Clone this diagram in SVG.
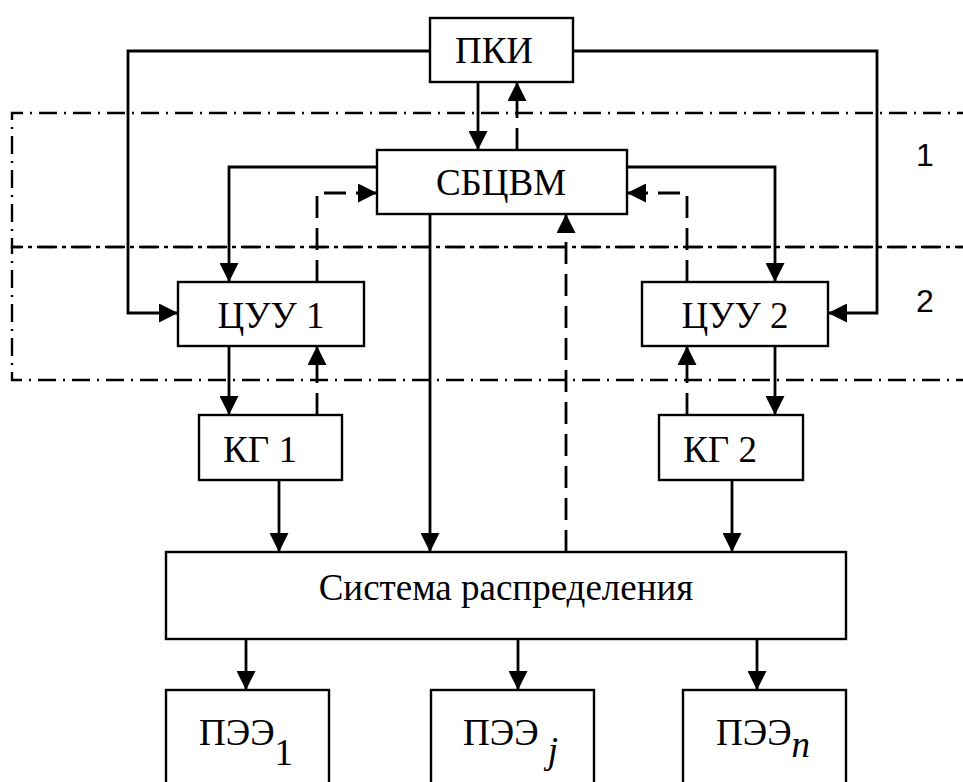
<svg xmlns="http://www.w3.org/2000/svg" width="963" height="782" viewBox="0 0 963 782">
<style>
.box{fill:#fff;stroke:#000;stroke-width:2.4}
.t{font-family:"Liberation Serif","Times New Roman",serif;font-size:37px;fill:#000;text-anchor:middle}
.lbl{font-family:"Liberation Sans",Arial,sans-serif;font-size:32px;fill:#000;text-anchor:middle}
.c{fill:none;stroke:#000;stroke-width:2.8;marker-end:url(#ah)}
.d{stroke-dasharray:22 10}
.zone{fill:none;stroke:#000;stroke-width:2.4;stroke-dasharray:18 7 2 7}
</style>
<defs>
<marker id="ah" markerUnits="userSpaceOnUse" markerWidth="19" markerHeight="19" refX="19" refY="9.5" orient="auto">
<path d="M0,0 L19,9.5 L0,19 Z" fill="#000"/>
</marker>
</defs>
<rect width="963" height="782" fill="#fff"/>
<g id="zones">
<path class="zone" d="M975,113 H12 V247 H975"/>
<path class="zone" d="M975,247 H12 V380 H975"/>
<text class="lbl" x="925" y="166">1</text>
<text class="lbl" x="925" y="312">2</text>
</g>
<g id="connectors">
<path class="c" d="M430,51 H128 V313 H178"/>
<path class="c" d="M573,51 H877 V313 H828"/>
<path class="c" d="M478,82 V150"/>
<path class="c d" d="M517,150 V82"/>
<path class="c" d="M377,167 H229 V282"/>
<path class="c d" d="M317,282 V193 H377"/>
<path class="c" d="M627,167 H775 V282"/>
<path class="c d" d="M687,282 V193 H627"/>
<path class="c" d="M430,214 V552"/>
<path class="c d" d="M566,552 V214"/>
<path class="c" d="M229,346 V415"/>
<path class="c d" d="M317,415 V346"/>
<path class="c" d="M775,346 V415"/>
<path class="c d" d="M687,415 V346"/>
<path class="c" d="M279,480 V552"/>
<path class="c" d="M732,480 V552"/>
<path class="c" d="M246,639 V690"/>
<path class="c" d="M518,639 V690"/>
<path class="c" d="M757,639 V690"/>
</g>
<g id="pki"><rect class="box" x="430" y="18" width="143" height="64"/><text class="t" x="494" y="63">ПКИ</text></g>
<g id="sbcvm"><rect class="box" x="377" y="150" width="250" height="64"/><text class="t" x="501" y="195">СБЦВМ</text></g>
<g id="cuu1"><rect class="box" x="178" y="282" width="186" height="64"/><text class="t" x="271" y="328">ЦУУ 1</text></g>
<g id="cuu2"><rect class="box" x="642" y="282" width="186" height="64"/><text class="t" x="735" y="328">ЦУУ 2</text></g>
<g id="kg1"><rect class="box" x="199" y="415" width="143" height="65"/><text class="t" x="260" y="462">КГ 1</text></g>
<g id="kg2"><rect class="box" x="659" y="415" width="144" height="65"/><text class="t" x="720" y="462">КГ 2</text></g>
<g id="sr"><rect class="box" x="166" y="552" width="680" height="87"/><text class="t" x="506" y="600">Система распределения</text></g>
<g id="pee1"><rect class="box" x="166" y="690" width="163" height="110"/><text class="t" x="199" y="745" style="text-anchor:start">ПЭЭ<tspan dy="20">1</tspan></text></g>
<g id="peej"><rect class="box" x="431" y="690" width="163" height="110"/><text class="t" x="463" y="745" style="text-anchor:start">ПЭЭ <tspan dy="18" font-style="italic">j</tspan></text></g>
<g id="peen"><rect class="box" x="683" y="690" width="163" height="110"/><text class="t" x="716" y="745" style="text-anchor:start">ПЭЭ<tspan dy="12" font-style="italic">n</tspan></text></g>
</svg>
